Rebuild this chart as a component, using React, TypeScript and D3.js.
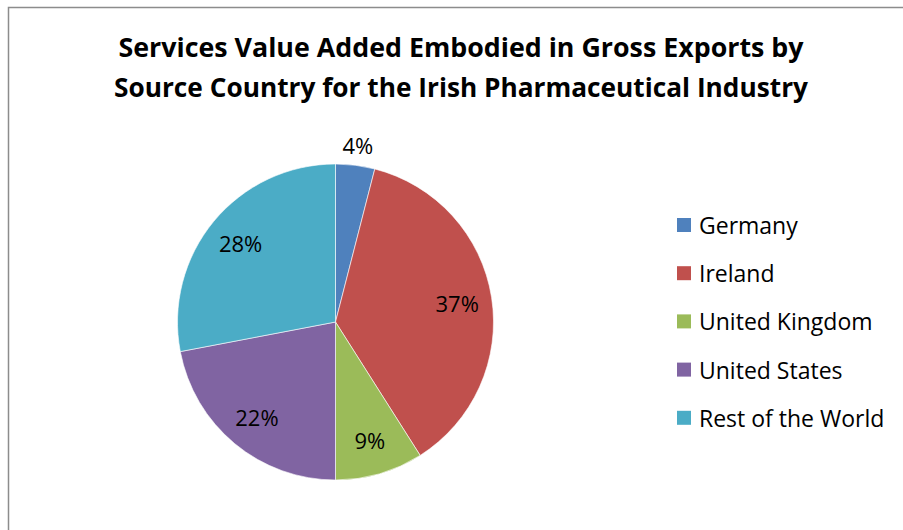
import React from "react";
import * as d3 from "d3";

const categories = ["Germany", "Ireland", "United Kingdom", "United States", "Rest of the World"];
const values = [4, 37, 9, 22, 28];
const colors = ["#4F81BD", "#C0504D", "#9BBB59", "#8064A2", "#4BACC6"];
const titleLines = [
  "Services Value Added Embodied in Gross Exports by",
  "Source Country for the Irish Pharmaceutical Industry",
];

const W = 903;
const H = 530;
const FONT = "'Open Sans', 'Liberation Sans', sans-serif";

export default function App() {
  const cx = 335.5;
  const cy = 322;
  const R = 158;
  const total = d3.sum(values);
  const pie = d3.pie<number>().sort(null).value((d) => d)(values);
  const arc = d3.arc<d3.PieArcDatum<number>>().innerRadius(0).outerRadius(R);

  return (
    <svg width={W} height={H} style={{ position: "absolute", left: 0, top: 0 }}>
      <rect x={0} y={0} width={W} height={H} fill="#fff" />
      <rect x={8.5} y={7.5} width={W + 10} height={H + 10} fill="#fff" stroke="#8c8c8c" strokeWidth={1.5} />
      {titleLines.map((t, i) => (
        <text
          key={i}
          x={461}
          y={57 + i * 40}
          textAnchor="middle"
          fontFamily={FONT}
          fontWeight="bold"
          fontSize={27}
          fill="#000"
          textLength={i === 0 ? 685 : 694}
          lengthAdjust="spacingAndGlyphs"
        >
          {t}
        </text>
      ))}
      <g transform={`translate(${cx},${cy})`}>
        {pie.map((p, i) => (
          <path key={i} d={arc(p) || ""} fill={colors[i]} stroke="#fff" strokeWidth={0.6} />
        ))}
        {pie.map((p, i) => {
          const mid = (p.startAngle + p.endAngle) / 2;
          const frac = p.value / total;
          const r = frac < 0.05 ? R + 20 : R * 0.78;
          const x = r * Math.sin(mid);
          const y = -r * Math.cos(mid);
          return (
            <text
              key={i}
              x={x}
              y={y}
              textAnchor="middle"
              dominantBaseline="central"
              fontFamily={FONT}
              fontSize={22}
              fill="#000"
            >
              {Math.round(frac * 100)}%
            </text>
          );
        })}
      </g>
      {categories.map((c, i) => (
        <g key={c} transform={`translate(677,${225 + i * 48.2})`}>
          <rect x={0} y={-7} width={14} height={14} fill={colors[i]} />
          <text x={22} y={0} dominantBaseline="central" fontFamily={FONT} fontSize={23} fill="#000">
            {c}
          </text>
        </g>
      ))}
    </svg>
  );
}
